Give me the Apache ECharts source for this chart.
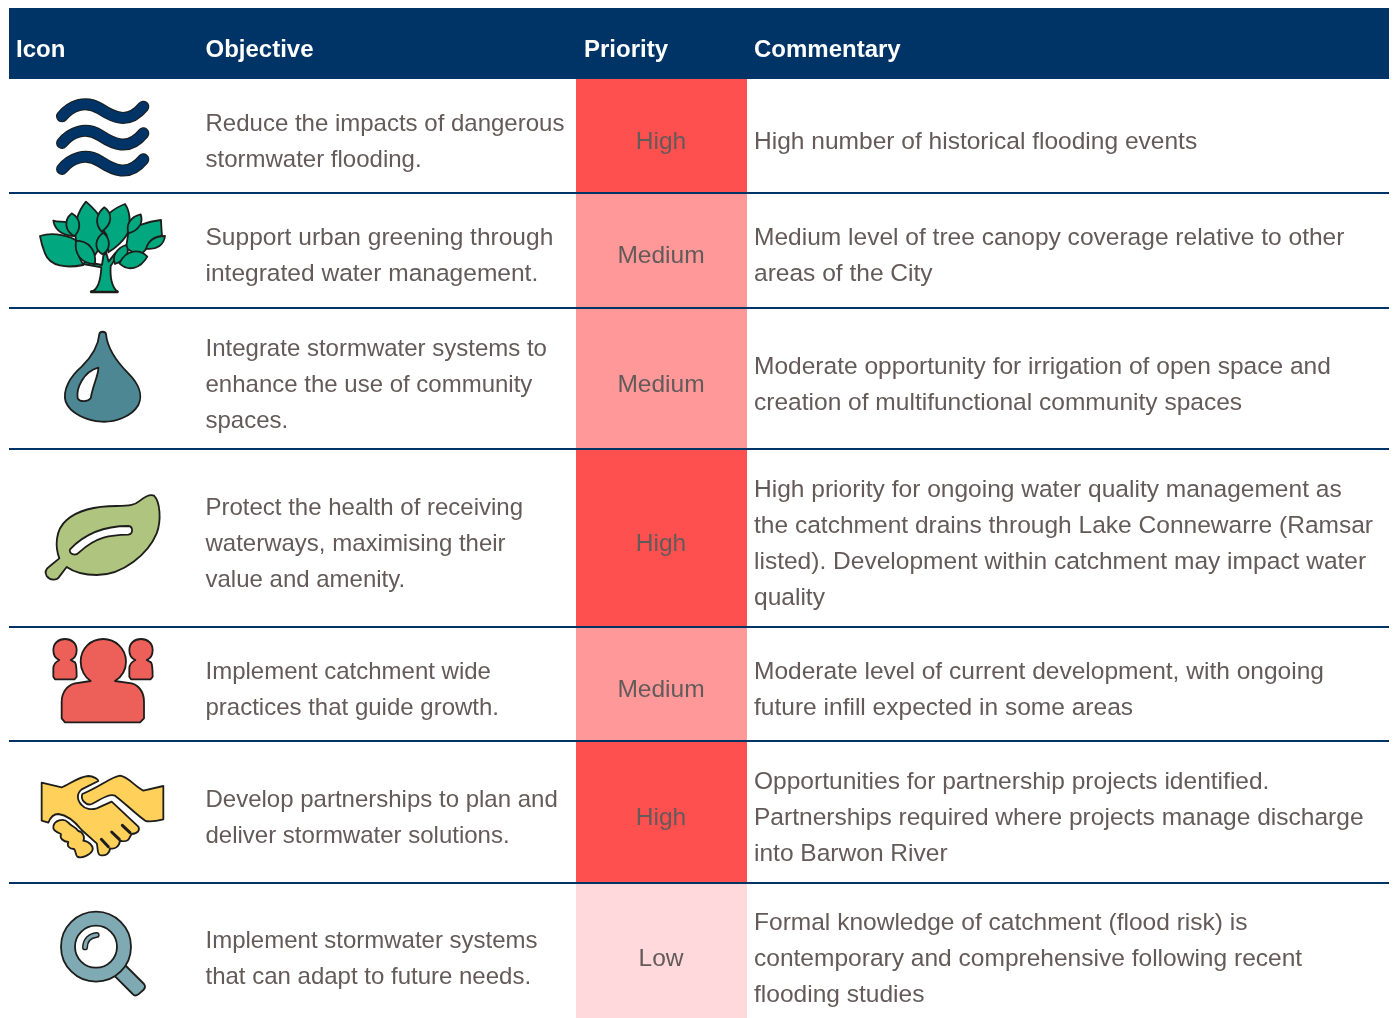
<!DOCTYPE html>
<html><head><meta charset="utf-8"><title>Stormwater objectives</title>
<style>html,body{margin:0;padding:0;background:#fff}#c{width:1394px;height:1018px}</style>
<script src="https://cdn.jsdelivr.net/npm/echarts@6/dist/echarts.min.js"></script></head>
<body><div id="c"></div><script>
const headers = ['Icon','Objective','Priority','Commentary'];
const objectives = [
 'Reduce the impacts of dangerous\nstormwater flooding.',
 'Support urban greening through\nintegrated water management.',
 'Integrate stormwater systems to\nenhance the use of community\nspaces.',
 'Protect the health of receiving\nwaterways, maximising their\nvalue and amenity.',
 'Implement catchment wide\npractices that guide growth.',
 'Develop partnerships to plan and\ndeliver stormwater solutions.',
 'Implement stormwater systems\nthat can adapt to future needs.'
];
const priorities = ['High','Medium','Medium','High','Medium','High','Low'];
const commentary = [
 'High number of historical flooding events',
 'Medium level of tree canopy coverage relative to other\nareas of the City',
 'Moderate opportunity for irrigation of open space and\ncreation of multifunctional community spaces',
 'High priority for ongoing water quality management as\nthe catchment drains through Lake Connewarre (Ramsar\nlisted). Development within catchment may impact water\nquality',
 'Moderate level of current development, with ongoing\nfuture infill expected in some areas',
 'Opportunities for partnership projects identified.\nPartnerships required where projects manage discharge\ninto Barwon River',
 'Formal knowledge of catchment (flood risk) is\ncontemporary and comprehensive following recent\nflooding studies'
];
const priorityColors = {High:'#FF5050',Medium:'#FF9999',Low:'#FFD9DC'};

// layout
const W=1394,H=1018, L=9,R=1389, headTop=8, headBot=79;
const rowEdges=[79,193,308,449,627,741,883,1018];
const rowText=[142,256.5,385,544,690,818,959.5];
const colX=[16,205.5,584,754], prioL=576, prioR=747;
const INK='#1d1d1b', TXT='#645a5a', NAVY='#003366';
const FONT='"Liberation Sans", Arial, sans-serif', FS=24, FSW=24.54;

const circ=(x,y,r)=>{const k=r*.5523;return `M${x-r} ${y}C${x-r} ${y-k} ${x-k} ${y-r} ${x} ${y-r}C${x+k} ${y-r} ${x+r} ${y-k} ${x+r} ${y}C${x+r} ${y+k} ${x+k} ${y+r} ${x} ${y+r}C${x-k} ${y+r} ${x-r} ${y+k} ${x-r} ${y}Z`;};
const wave=d=>`M186 ${349+d}C212 ${318+d} 255 ${298+d} 300 ${326+d}C340 ${352+d} 385 ${375+d} 430 ${320+d}`;
const G=(fill,list)=>list.map(d=>({d,fill,stroke:INK,lw:1.8}));
const S=(stroke,lw,d)=>({d,fill:null,stroke,lw,cap:'round'});
const TREE='#00A77F', DROP='#4D8794', LEAF='#AEC47F', PPL='#ED5F59', HAND='#FFD05A', GLASS='#7FAAB3';
// icon outlines, in units of a third of a pixel inside a 200x400 px box
const icons=[
 {o:[0,0],p:[0,80,158].flatMap(d=>[S(INK,12,wave(d)),S(NAVY,10,wave(d))])},
 {o:[0,0],p:[
  S(INK,3,'M274 875L352 875'),
  ...G(TREE,[
  'M275 875C295 868 302 840 304 802L250 792L255 785L306 795L310 768L318 756L326 785L345 760L350 770L332 798C330 830 335 860 352 875Z',
  'M120 708C160 695 215 708 232 725C225 745 235 770 250 795C200 805 150 800 135 760C125 735 122 720 120 708Z',
  'M160 662C175 668 190 662 202 668L225 708C195 708 165 695 160 662Z',
  'M258 605C275 620 295 640 302 655C305 670 300 685 308 695L320 710L285 765L228 722C222 680 228 640 258 605Z',
  'M375 612C388 630 394 665 385 695C375 720 345 745 325 757L320 705L303 680C310 650 340 625 375 612Z',
  'M483 660C484 675 484 690 486 705L440 745L420 768L378 745L385 698C400 680 440 665 483 660Z',
  'M215 640C242 655 245 685 224 708C195 695 190 660 215 640Z',
  'M313 622C338 640 338 672 305 695C282 670 290 640 313 622Z',
  'M422 643C430 665 420 690 385 700C378 675 390 650 422 643Z',
  'M495 708C492 735 470 750 438 746C445 722 465 708 495 708Z',
  'M228 722C265 722 290 750 285 792C245 790 222 765 228 722Z',
  'M310 698C335 720 330 750 308 763C280 748 285 715 310 698Z',
  'M378 735C392 755 378 780 345 792C335 768 350 745 378 735Z',
  'M442 770C420 748 380 745 358 790C385 815 420 808 442 770Z'])]},
 {o:[0,320],p:[
  ...G(DROP,['M298 42C300 33 316 33 318 42C322 85 350 125 385 160C415 190 430 225 415 255C395 290 345 307 305 305C260 303 210 280 197 245C187 210 210 170 245 140C275 110 295 80 298 42Z']),
  ...G('#fff',['M295 143C296 165 280 190 272 235C265 245 240 248 233 235C228 205 250 155 295 143Z'])]},
 {o:[0,320],p:[
  ...G(LEAF,['M462 527C480 545 485 600 470 640C445 700 370 765 290 765C250 765 220 755 200 741L178 770C170 782 150 782 140 768C132 755 140 745 150 738L178 715C165 680 165 630 200 600C240 565 300 558 350 558C390 558 405 555 420 542C435 530 450 522 462 527Z']),
  ...G('#fff',['M385 618C400 620 400 642 385 644C330 645 290 650 240 695C225 712 205 700 210 688C260 635 320 618 385 618Z'])]},
 {o:[0,630],p:G(PPL,[
  'M272 153L225 160C200 165 185 190 185 215L185 265L195 277L420 277L432 265L432 215C432 185 415 165 395 160L345 153C365 140 378 120 378 95C378 55 345 27 310 27C272 27 242 55 242 95C242 120 255 142 272 153Z',
  'M178 90C165 85 160 72 160 60C160 40 175 27 195 27C215 27 230 40 230 60C230 72 225 85 212 90L225 97C230 105 230 115 230 140L224 148L165 148L160 140L160 115C160 105 165 97 178 90Z',
  'M406 90C393 85 388 72 388 60C388 40 403 27 423 27C443 27 458 40 458 60C458 72 453 85 440 90L453 97C458 105 458 115 458 140L452 148L393 148L388 140L388 115C388 105 393 97 406 90Z'])},
 {o:[0,630],p:[
  ...G(HAND,[
  'M125 458L185 472C205 465 235 440 265 438C280 438 295 448 295 453L245 478C230 490 230 510 245 525C255 538 275 540 290 535L335 515L415 590C420 600 415 610 395 612L390 620C385 635 370 635 360 632C358 650 345 658 330 655C330 670 315 680 300 675C290 670 295 655 290 640L245 600C225 575 200 555 175 552C160 552 150 565 145 578L125 572Z',
  'M247 492C300 470 335 440 360 437C385 440 405 470 430 482L490 468L490 568C470 573 450 575 437 573C410 555 370 515 345 497C325 490 300 510 275 522C260 528 240 510 247 492Z',
  'M160 590C162 572 190 562 205 578C215 590 228 590 235 603C250 605 255 625 250 632C270 635 282 650 277 662C270 675 245 687 232 680C225 672 228 662 222 657C208 657 200 648 205 636C190 635 178 625 183 612C172 608 158 600 160 590Z']),
  S(INK,3,'M304 628L325 650'),S(INK,3,'M335 606L358 628'),S(INK,3,'M367 586L390 608')]},
 {o:[0,630],p:[
  ...G(GLASS,['M375 1005L432 1062C438 1070 435 1075 430 1080L415 1093C408 1098 402 1097 398 1092L343 1037Z',circ(288,950,105)]),
  ...G('#fff',[circ(288,950,63)]),
  S(INK,6,'M255 952C256 930 270 917 290 915'),S(GLASS,3.2,'M255 952C256 930 270 917 290 915')]}
];
const idx=a=>a.map((_,i)=>[i]);
const txt=(x,y,text,opt)=>({type:'text',style:Object.assign({text,x,y,fill:TXT,font:`${FS}px ${FONT}`,verticalAlign:'middle',lineHeight:36,align:'left'},opt||{})});
const custom=(data,renderItem,z)=>({type:'custom',coordinateSystem:'cartesian2d',data,renderItem,silent:true,clip:false,z,animation:false});
const rect=(api,x0,y0,x1,y1,fill)=>{const a=api.coord([x0,y0]),b=api.coord([x1,y1]);return {type:'rect',shape:{x:a[0],y:a[1],width:b[0]-a[0],height:b[1]-a[1]},style:{fill}};};
const wide={font:`${FSW}px ${FONT}`};

const option={
 animation:false,backgroundColor:'#fff',
 grid:{left:0,right:0,top:0,bottom:0},
 xAxis:{type:'value',min:0,max:W,show:false},
 yAxis:{type:'value',min:0,max:H,inverse:true,show:false},
 series:[
  custom(idx(priorities),(p,api)=>{const i=api.value(0);return rect(api,prioL,rowEdges[i],prioR,rowEdges[i+1],priorityColors[priorities[i]]);},1),
  custom([[0]],(p,api)=>rect(api,L,headTop,R,headBot,NAVY),1),
  custom(idx(rowEdges.slice(1,-1)),(p,api)=>{const i=api.value(0),y=rowEdges[i+1];return rect(api,L,y-1,R,y+1,NAVY);},2),
  custom(idx(headers),(p,api)=>{const i=api.value(0),c=api.coord([colX[i],50]);return txt(c[0],c[1],headers[i],{fill:'#fff',font:`bold ${FS}px ${FONT}`});},3),
  custom(idx(objectives),(p,api)=>{const i=api.value(0),c=api.coord([colX[1],rowText[i]]);return txt(c[0],c[1],objectives[i],i===1?wide:null);},3),
  custom(idx(priorities),(p,api)=>{const i=api.value(0),c=api.coord([(prioL+prioR)/2-.5,rowText[i]]);return txt(c[0],c[1],priorities[i],Object.assign({align:'center'},wide));},3),
  custom(idx(commentary),(p,api)=>{const i=api.value(0),c=api.coord([colX[3],rowText[i]]);return txt(c[0],c[1],commentary[i],wide);},3),
  custom(idx(icons),(p,api)=>{
   const ic=icons[api.value(0)],a=api.coord(ic.o),b=api.coord([ic.o[0]+200,ic.o[1]+400]);
   return {type:'group',children:ic.p.map(s=>({type:'path',
     shape:{pathData:'M0 0L0 0M600 1200L600 1200'+s.d,x:a[0],y:a[1],width:b[0]-a[0],height:b[1]-a[1],layout:'cover'},
     style:{fill:s.fill||'none',stroke:s.stroke,lineWidth:s.lw,lineCap:s.cap||'butt',lineJoin:'round'}}))};
  },3)
 ]
};
const chart=echarts.init(document.getElementById('c'),null,{renderer:'canvas'});
chart.setOption(option);
</script></body></html>
